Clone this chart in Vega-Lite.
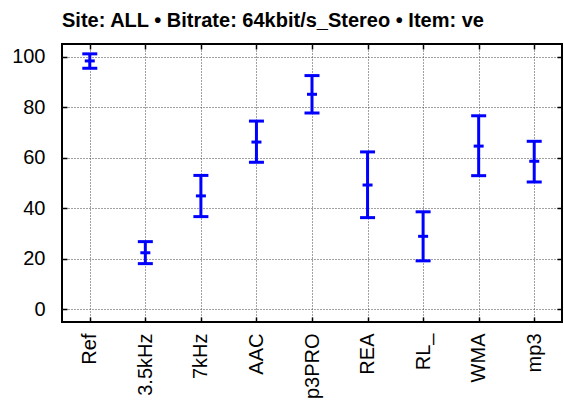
{
  "$schema": "https://vega.github.io/schema/vega-lite/v6.json",
  "width": 500,
  "height": 278,
  "autosize": {"type": "none"},
  "padding": {"left": 62, "top": 44, "right": 2, "bottom": 79},
  "background": "white",
  "title": {
    "text": "Site: ALL • Bitrate: 64kbit/s_Stereo • Item: ve",
    "anchor": "start",
    "frame": "group",
    "font": "Liberation Sans",
    "fontSize": 20,
    "fontWeight": "bold",
    "color": "black",
    "offset": 12
  },
  "config": {
    "view": {"stroke": "black", "strokeWidth": 2},
    "axis": {
      "domain": false,
      "labelFont": "Liberation Sans",
      "labelFontSize": 20,
      "labelColor": "black",
      "tickColor": "black",
      "tickWidth": 1.5,
      "tickSize": -5,
      "gridColor": "#444444",
      "gridDash": [1, 2],
      "gridWidth": 1,
      "title": null
    }
  },
  "data": {
    "values": [
      {"codec": "Ref", "lo": 95.4, "mean": 98.3, "hi": 101.1},
      {"codec": "3.5kHz", "lo": 18.1, "mean": 22.4, "hi": 26.8},
      {"codec": "7kHz", "lo": 36.7, "mean": 44.9, "hi": 53.0},
      {"codec": "AAC", "lo": 58.2, "mean": 66.2, "hi": 74.5},
      {"codec": "p3PRO", "lo": 77.7, "mean": 85.1, "hi": 92.5},
      {"codec": "REA", "lo": 36.3, "mean": 49.2, "hi": 62.3},
      {"codec": "RL_", "lo": 19.2, "mean": 28.9, "hi": 38.6},
      {"codec": "WMA", "lo": 52.9, "mean": 64.6, "hi": 76.6},
      {"codec": "mp3", "lo": 50.4, "mean": 58.6, "hi": 66.5}
    ]
  },
  "resolve": {"axis": {"x": "independent", "y": "independent"}},
  "layer": [
    {
      "mark": {"type": "rule", "color": "#0000ff", "strokeWidth": 3, "opacity": 1},
      "encoding": {
        "x": {"field": "codec", "type": "nominal", "sort": null,
              "scale": {"type": "point", "padding": 0.5},
              "axis": {"orient": "bottom", "labelAngle": -90, "labelAlign": "right", "labelBaseline": "middle", "labelPadding": 16, "grid": true}},
        "y": {"field": "lo", "type": "quantitative",
              "scale": {"domain": [-5, 105], "nice": false, "zero": false},
              "axis": {"orient": "left", "values": [0, 20, 40, 60, 80, 100], "labelPadding": 22, "grid": true}},
        "y2": {"field": "hi"}
      }
    },
    {
      "mark": {"type": "tick", "color": "#0000ff", "thickness": 3, "size": 15, "opacity": 1},
      "encoding": {
        "x": {"field": "codec", "type": "nominal", "sort": null,
              "axis": {"orient": "top", "labels": false, "grid": false}},
        "y": {"field": "hi", "type": "quantitative",
              "axis": {"orient": "right", "labels": false, "grid": false, "values": [0, 20, 40, 60, 80, 100]}}
      }
    },
    {
      "mark": {"type": "tick", "color": "#0000ff", "thickness": 3, "size": 15, "opacity": 1},
      "encoding": {
        "x": {"field": "codec", "type": "nominal", "sort": null, "axis": null},
        "y": {"field": "lo", "type": "quantitative", "axis": null}
      }
    },
    {
      "mark": {"type": "tick", "color": "#0000ff", "thickness": 3, "size": 10, "opacity": 1},
      "encoding": {
        "x": {"field": "codec", "type": "nominal", "sort": null, "axis": null},
        "y": {"field": "mean", "type": "quantitative", "axis": null}
      }
    }
  ]
}
